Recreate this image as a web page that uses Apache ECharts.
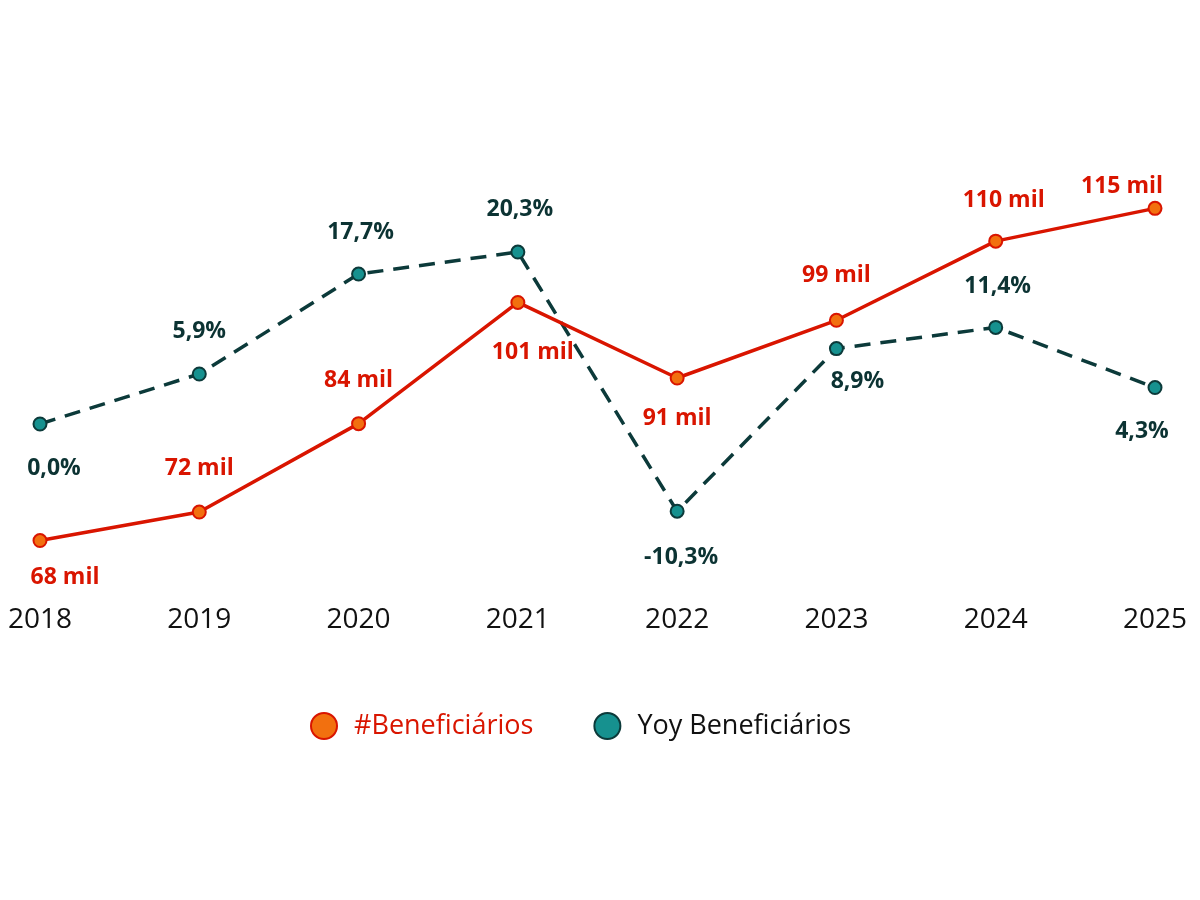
<!DOCTYPE html>
<html>
<head>
<meta charset="utf-8">
<script src="https://cdn.jsdelivr.net/npm/echarts@6/dist/echarts.min.js"></script>
<style>
  html, body { margin: 0; padding: 0; background: #fff; }
  #chart { width: 1200px; height: 900px; }
</style>
</head>
<body>
<div id="chart"></div>
<script>
// data
const years = ['2018', '2019', '2020', '2021', '2022', '2023', '2024', '2025'];
const beneficiarios = [68, 72, 84.4, 101.4, 90.8, 98.9, 110, 114.6];   // mil
const yoyBeneficiarios = [0.0, 5.9, 17.7, 20.3, -10.3, 8.9, 11.4, 4.3]; // %

// label offsets from the point centre [dx, dy]
const redLabelShift = [[25, 37], [0, -44], [0, -43], [15, 50], [0, 40], [0, -45], [8, -41], [-33, -22]];
const tealLabelShift = [[14, 44], [0, -43], [2, -42], [2, -43], [4, 46], [21, 33], [2, -41], [-13, 44]];

const RED = '#d91500';
const TEAL_LINE = '#0c3a3a';

const chart = echarts.init(document.getElementById('chart'));

const labelFont = {
  fontFamily: 'Open Sans',
  fontWeight: 'bold',
  fontSize: 23
};

chart.setOption({
  animation: false,
  grid: { left: 40, right: 45, top: 100, bottom: 300 },
  legend: {
    top: 707,
    left: 305,
    itemGap: 60,
    itemWidth: 26,
    itemHeight: 26,
    icon: 'circle',
    textStyle: { fontFamily: 'Open Sans', fontSize: 27, color: '#111', padding: [0, 0, 0, 12] },
    data: [
      { name: '#Beneficiários', textStyle: { color: RED } },
      { name: 'Yoy Beneficiários' }
    ]
  },
  xAxis: {
    type: 'category',
    data: years,
    boundaryGap: false,
    axisLine: { show: false },
    axisTick: { show: false },
    axisLabel: {
      fontFamily: 'Open Sans',
      fontSize: 28,
      color: '#111',
      margin: 6,
      interval: 0
    }
  },
  yAxis: [
    { type: 'value', min: 59.66, max: 129.8, show: false, splitLine: { show: false } },
    { type: 'value', min: -20.78, max: 38.25, show: false, splitLine: { show: false } }
  ],
  series: [
    {
      name: '#Beneficiários',
      type: 'line',
      yAxisIndex: 0,
      z: 3,
      symbol: 'circle',
      symbolSize: 13,
      lineStyle: { color: RED, width: 3.5 },
      itemStyle: { color: '#f2700f', borderColor: RED, borderWidth: 2 },
      data: beneficiarios.map((v, i) => ({
        value: v,
        label: { offset: redLabelShift[i] }
      })),
      label: {
        show: true,
        position: 'inside',
        color: RED,
        ...labelFont,
        formatter: p => Math.round(p.value) + ' mil'
      }
    },
    {
      name: 'Yoy Beneficiários',
      type: 'line',
      yAxisIndex: 1,
      z: 2,
      symbol: 'circle',
      symbolSize: 13,
      lineStyle: { color: TEAL_LINE, width: 3.5, type: [16, 10] },
      itemStyle: { color: '#16918f', borderColor: TEAL_LINE, borderWidth: 2 },
      data: yoyBeneficiarios.map((v, i) => ({
        value: v,
        label: { offset: tealLabelShift[i] }
      })),
      label: {
        show: true,
        position: 'inside',
        color: '#0c3333',
        ...labelFont,
        formatter: p => p.value.toFixed(1).replace('.', ',') + '%'
      }
    }
  ]
});
</script>
</body>
</html>
